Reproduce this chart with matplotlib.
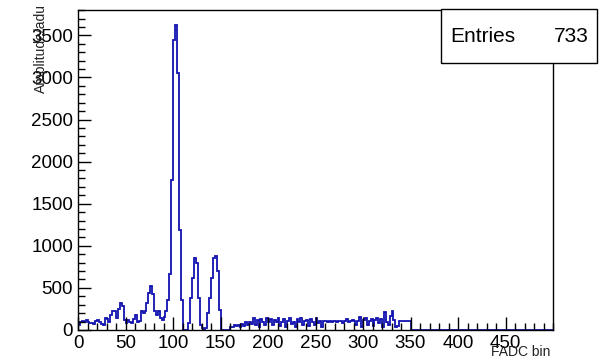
import numpy as np
import matplotlib
matplotlib.use("Agg")
import matplotlib.pyplot as plt
from matplotlib.patches import Rectangle
from matplotlib.ticker import MultipleLocator

# histogram contents, 2 FADC bins per entry, starting at bin 0
bin_width = 2
counts = [
    60, 100, 110, 90, 120, 100, 80, 80, 70, 110,          # 0-18
    120, 100, 70, 60, 140, 130, 100, 180, 230, 220,       # 20-38
    140, 250, 320, 290, 120, 80, 120, 100, 80, 130,       # 40-58
    180, 100, 110, 220, 200, 230, 320, 440, 520, 430,     # 60-78
    220, 180, 220, 140, 120, 160, 220, 360, 670, 1780,    # 80-98
    3450, 3620, 3050, 1190, 360, 0, 0, 0, 80, 380,        # 100-118
    620, 850, 800, 380, 60, 20, 0, 20, 200, 380,          # 120-138
    620, 850, 880, 700, 240, 0, 0, 0, 0, 0,               # 140-158
    40, 30, 60, 50, 60, 40, 70, 50, 90, 60,               # 160-178
    100, 70, 140, 60, 120, 40, 130, 100, 60, 140,         # 180-198
    90, 130, 60, 120, 90, 140, 50, 100, 130, 40,          # 200-218
    110, 140, 70, 100, 40, 130, 90, 140, 60, 110,         # 220-238
    120, 50, 130, 90, 60, 140, 80, 110, 40, 110,          # 240-258
    110, 100, 110, 100, 110, 110, 90, 110, 110, 80,       # 260-278
    110, 130, 100, 110, 120, 110, 60, 110, 150, 40,       # 280-298
    120, 140, 60, 110, 130, 50, 120, 140, 80, 130,        # 300-318
    40, 210, 100, 60, 170, 230, 120, 40, 50, 110,         # 320-338
    110, 110, 110, 110, 110,                              # 340-348
]
x_max = 500
entries = 733
x_ticks = [0, 50, 100, 150, 200, 250, 300, 350, 400, 450]
y_ticks = [0, 500, 1000, 1500, 2000, 2500, 3000, 3500]

plt.rcParams['font.family'] = ['Liberation Sans', 'DejaVu Sans']

W, H = 603, 359
fig = plt.figure(figsize=(W / 100, H / 100), dpi=100)
ax = fig.add_axes([78 / W, 1 - 330 / H, (553 - 78) / W, (330 - 10) / H])

# pad with empty bins up to the axis end, like ROOT draws them
vals = np.concatenate([counts, np.zeros(x_max // bin_width - len(counts))])
edges = np.arange(len(vals) + 1) * bin_width
ax.stairs(vals, edges, color='#1212b0', lw=1.3)

ax.set_xlim(0, x_max)
ax.set_ylim(0, max(counts) * 1.05)
ax.set_xticks(x_ticks)
ax.set_yticks(y_ticks)
ax.xaxis.set_minor_locator(MultipleLocator(10))
ax.yaxis.set_minor_locator(MultipleLocator(100))
ax.tick_params(which='both', direction='in', top=False, right=False,
               width=1, labelsize=13.5)
ax.tick_params(which='major', length=9.5, pad=3.5)
ax.tick_params(which='minor', length=5)
for s in ax.spines.values():
    s.set_linewidth(1)

# axis titles, ROOT-style: small and right-aligned at the axis ends
fig.text(41 / W, 1 - 4 / H, 'Amplitude/adu', rotation=90, ha='center',
         va='top', fontsize=10, color='#222222')
fig.text(550 / W, 1 - 352 / H, 'FADC bin', ha='right', va='center',
         fontsize=10, color='#222222')

# stats box
fig.add_artist(Rectangle((441 / W, 1 - 63 / H), (597 - 441) / W, (63 - 9) / H,
                         transform=fig.transFigure, facecolor='white',
                         edgecolor='black', lw=1, zorder=10))
fig.text(450 / W, 1 - 36 / H, 'Entries', ha='left', va='center',
         fontsize=15, zorder=11)
fig.text(589 / W, 1 - 36 / H, str(entries), ha='right', va='center',
         fontsize=15, zorder=11)

fig.savefig('out.png', dpi=100)
